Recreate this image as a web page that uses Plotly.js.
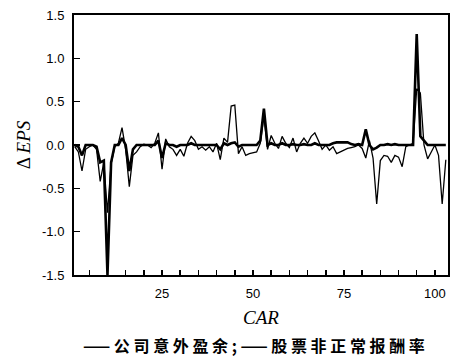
<!DOCTYPE html>
<html>
<head>
<meta charset="utf-8">
<script src="https://cdn.plot.ly/plotly-3.0.1.min.js"></script>
<style>html,body{margin:0;padding:0;background:#fff;}#chart{width:451px;height:357px;}</style>
</head>
<body>
<div id="chart"></div>
<script>
// x positions (observation index)
const xIdx = [];
for (let i = 1; i <= 103; i++) xIdx.push(i);

// 公司意外盈余 (thin line)
const earnings = [
 -0.02,-0.08,-0.30,-0.05,-0.02, 0.00,-0.05,-0.42,-0.20,-0.78,
 -0.22,-0.02, 0.02, 0.20,-0.05,-0.48,-0.12,-0.08,-0.02, 0.01,
  0.00,-0.03, 0.02, 0.14,-0.28, 0.07,-0.02,-0.05,-0.12,-0.05,
 -0.13, 0.02, 0.10, 0.05,-0.05,-0.02,-0.06,-0.02,-0.08, 0.02,
 -0.17, 0.08, 0.03, 0.45, 0.46,-0.10,-0.02,-0.12,-0.10,-0.09,
 -0.08, 0.02, 0.33,-0.05, 0.11, 0.02,-0.04, 0.10, 0.02,-0.03,
  0.08,-0.08, 0.02, 0.08, 0.02, 0.10, 0.14, 0.05,-0.05, 0.00,
 -0.06,-0.02,-0.10,-0.08,-0.06,-0.04,-0.03,-0.02, 0.00,-0.04,
 -0.15, 0.05,-0.15,-0.68,-0.18,-0.12,-0.13,-0.20,-0.12,-0.14,
 -0.25,-0.02, 0.00, 0.02, 0.65, 0.60, 0.00,-0.16,-0.08, 0.00,
 -0.12,-0.68,-0.17
];

// 股票非正常报酬率 (thick line)
const abnormal = [
  0.00,-0.02,-0.12, 0.00, 0.00, 0.00,-0.02,-0.20,-0.18,-1.50,
 -0.20, 0.00, 0.00, 0.08, 0.00,-0.30,-0.05, 0.00, 0.00, 0.00,
  0.00, 0.00, 0.00, 0.05,-0.15, 0.02, 0.00, 0.00,-0.02, 0.00,
  0.00, 0.00, 0.02, 0.00, 0.00, 0.00, 0.00, 0.00, 0.00, 0.00,
 -0.05, 0.02, 0.00, 0.02, 0.03,-0.02, 0.00, 0.00, 0.00, 0.00,
  0.00, 0.05, 0.42, 0.00, 0.02, 0.00, 0.00, 0.02, 0.00, 0.00,
  0.01, 0.00, 0.00, 0.01, 0.00, 0.00, 0.02, 0.00, 0.00, 0.00,
  0.00, 0.02, 0.03, 0.03, 0.03, 0.03, 0.01, 0.00, 0.01, 0.00,
  0.18, 0.00,-0.05,-0.03, 0.00, 0.00, 0.01, 0.00, 0.01, 0.00,
  0.00, 0.00, 0.00, 0.00, 1.28, 0.10, 0.05, 0.00, 0.00, 0.00,
  0.00, 0.00, 0.00
];

const yTicks = [-1.5,-1.0,-0.5,0.0,0.5,1.0,1.5];
const yTickText = ['-1.5','-1.0','-0.5','0.0','0.5','1.0','1.5'];
const xTicks = [5,10,15,20,25,30,35,40,45,50,55,60,65,70,75,80,85,90,95,100];
const xTickText = xTicks.map(v => (v % 25 === 0 ? String(v) : ''));

const legendNames = ['公司意外盈余', '股票非正常报酬率'];
const sp = ' ';
const spread = s => s.split('').join(sp);
const legendText = '—— ' + spread(legendNames[0]) + ' ; ——' + sp + spread(legendNames[1]);

const traces = [
  {x: xIdx, y: abnormal, type: 'scatter', mode: 'lines', name: legendNames[1],
   line: {color: '#000', width: 2.6}},
  {x: xIdx, y: earnings, type: 'scatter', mode: 'lines', name: legendNames[0],
   line: {color: '#000', width: 1.3}}
];

const layout = {
  width: 451, height: 357,
  margin: {l: 74, r: 3, t: 15, b: 82},
  paper_bgcolor: '#fff', plot_bgcolor: '#fff',
  showlegend: false,
  font: {family: 'Liberation Sans, Arial, sans-serif', color: '#000', size: 13},
  xaxis: {
    range: [0.8, 103.6], showgrid: false, zeroline: false,
    showline: true, linecolor: '#000', linewidth: 2, mirror: true,
    ticks: 'inside', ticklen: 5, tickwidth: 1.5, tickcolor: '#000',
    tickmode: 'array', tickvals: xTicks, ticktext: xTickText,
    ticklabelstandoff: 5,
    tickfont: {size: 13, family: 'Liberation Sans, Arial, sans-serif'},
    title: {text: 'CAR', font: {family: 'Liberation Serif, Times New Roman, serif', size: 19, style: 'italic'}, standoff: 11}
  },
  yaxis: {
    range: [-1.5, 1.5], showgrid: false, zeroline: false,
    showline: true, linecolor: '#000', linewidth: 2, mirror: true,
    ticks: 'inside', ticklen: 6, tickwidth: 1.5, tickcolor: '#000',
    tickmode: 'array', tickvals: yTicks, ticktext: yTickText,
    ticklabelstandoff: 5,
    tickfont: {size: 13, family: 'Liberation Sans, Arial, sans-serif'},
    title: {text: 'Δ <i>EPS</i>', font: {family: 'Liberation Serif, Times New Roman, serif', size: 19}, standoff: 6}
  },
  annotations: [{
    xref: 'paper', yref: 'paper', x: 0.48, y: -0.268, xanchor: 'center', yanchor: 'middle',
    showarrow: false,
    text: legendText,
    font: {family: 'Noto Sans CJK SC, sans-serif', size: 16, weight: 'bold', color: '#000'}
  }]
};

Plotly.newPlot('chart', traces, layout, {displayModeBar: false, staticPlot: true});
</script>
</body>
</html>
